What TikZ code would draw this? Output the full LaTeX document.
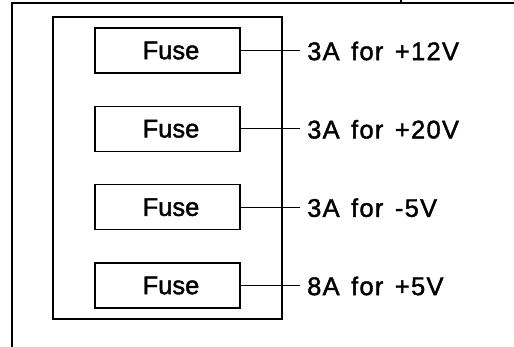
\documentclass[tikz,border=0pt]{standalone}
\usepackage{fontspec}
\setmainfont[FakeBold=1.6]{Liberation Sans}
\newfontfamily\lblfont[LetterSpace=5,FakeBold=1.6]{Liberation Sans}
\newcommand{\wsp}{\hspace{0.45em}}
\begin{document}
\begin{tikzpicture}[x=1pt,y=-1pt,
  frame/.style={draw=black,line width=1.4pt},
  fusebox/.style={draw=black,line width=1.4pt,minimum width=145pt,minimum height=45pt,inner sep=0pt,font=\fontsize{25.5}{28}\selectfont},
  lbl/.style={anchor=west,inner sep=0pt,font=\fontsize{25.5}{28}\lblfont},
  wire/.style={draw=black,line width=1.3pt}]
\useasboundingbox (0,0) rectangle (514,347);
% outer frame
\coordinate (otl) at (12,3);
\coordinate (otr) at (514,3);
\coordinate (obl) at (12,347);
\coordinate (tickb) at (401,3);
\coordinate (tickt) at (401,0);
\draw[frame] (obl) -- (otl) -- (otr);
\draw[frame] (tickb) -- (tickt);
% inner box
\node[frame,minimum width=229pt,minimum height=302pt,inner sep=0pt] (inner) at (167.5,168) {};
% fuses
\node[fusebox] (f1) at (167.5,50.5) {\hspace*{7pt}Fuse};
\node[fusebox] (f2) at (167.5,128.8) {\hspace*{7pt}Fuse};
\node[fusebox] (f3) at (167.5,207.2) {\hspace*{7pt}Fuse};
\node[fusebox] (f4) at (167.5,285.5) {\hspace*{7pt}Fuse};
\node[lbl] (l1) at (307,51) {3A\wsp for\wsp +12V};
\node[lbl] (l2) at (307,129.3) {3A\wsp for\wsp +20V};
\node[lbl] (l3) at (307,207.7) {3A\wsp for\wsp -5V};
\node[lbl] (l4) at (307,286) {8A\wsp for\wsp +5V};
\coordinate (e1) at (300,50.5);
\coordinate (e2) at (300,128.8);
\coordinate (e3) at (300,207.2);
\coordinate (e4) at (300,285.5);
\draw[wire] (f1.east) -- (e1);
\draw[wire] (f2.east) -- (e2);
\draw[wire] (f3.east) -- (e3);
\draw[wire] (f4.east) -- (e4);
\end{tikzpicture}
\end{document}
